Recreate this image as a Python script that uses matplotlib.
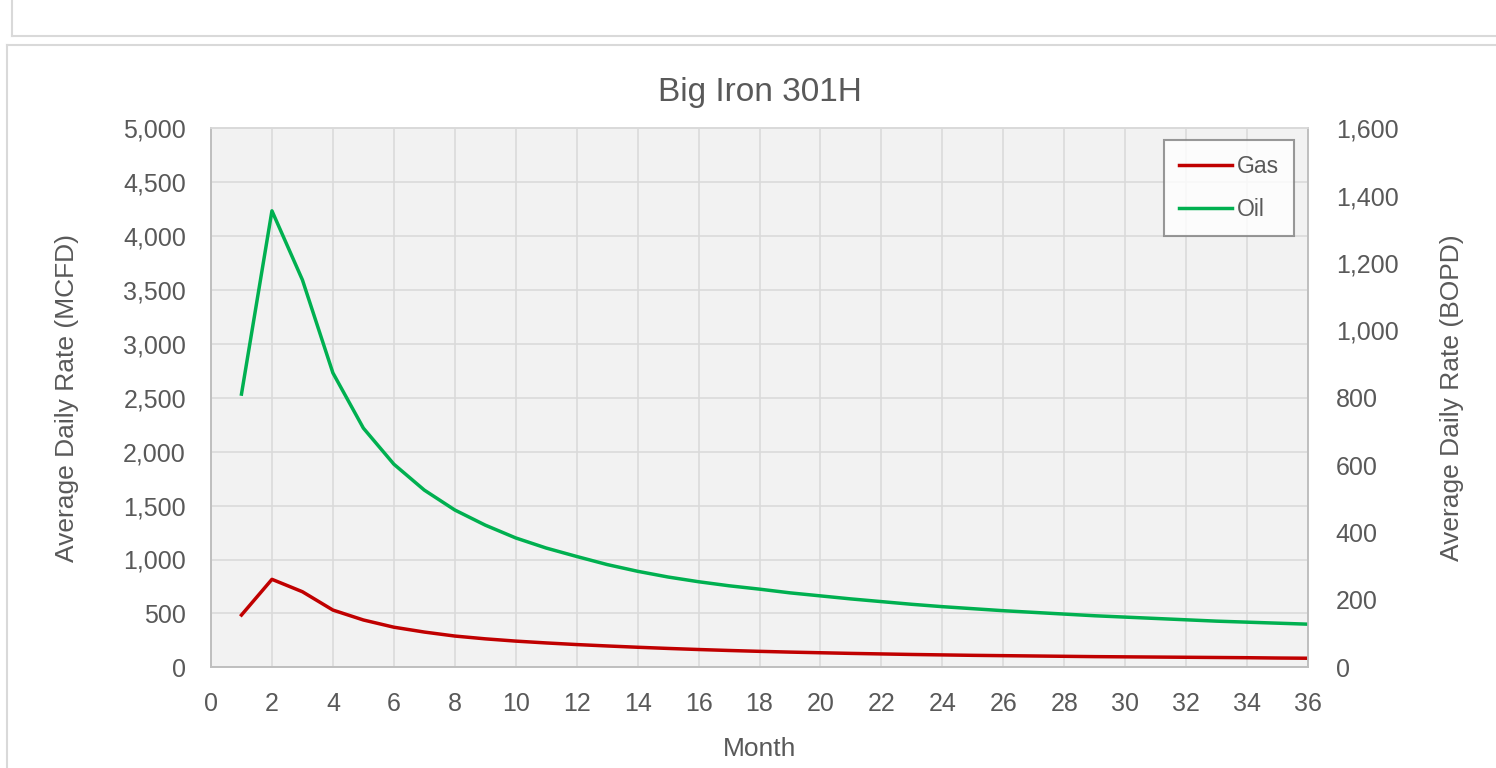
import matplotlib
matplotlib.use("Agg")
import matplotlib.pyplot as plt
from matplotlib.lines import Line2D
from matplotlib.ticker import FuncFormatter, MultipleLocator

plt.rcParams['font.family'] = ['Liberation Sans', 'DejaVu Sans']

# data
months = list(range(1, 37))
gas_mcfd = [485, 816, 701, 531, 439, 372, 327, 290, 264, 243, 226, 211,
            198, 186, 175, 165, 156, 148, 141, 135, 129, 124, 119, 115,
            111, 108, 105, 102, 99, 97, 95, 93, 91, 89, 86, 84]
oil_bopd = [811, 1355, 1150, 874, 710, 603, 526, 467, 422, 384, 354, 329,
            305, 285, 268, 254, 242, 232, 221, 212, 203, 195, 187, 180,
            174, 168, 163, 158, 153, 149, 145, 141, 137, 134, 131, 128]

txt = '#595959'
W, H = 1496, 768

fig = plt.figure(figsize=(W / 100, H / 100), dpi=100)

# chart frame lines (this chart and the bottom of the one above)
def px_line(x0, y0, x1, y1):
    fig.add_artist(Line2D([x0 / W, x1 / W], [1 - y0 / H, 1 - y1 / H],
                          transform=fig.transFigure, color='#d9d9d9', lw=1.5))

px_line(12, 0, 12, 36)
px_line(12, 36, W, 36)
px_line(7, 45, W, 45)
px_line(7, 45, 7, H)

ax = fig.add_axes([211 / W, 1 - 667.3 / H, (1308 - 211) / W, (667.3 - 128.3) / H])
ax2 = ax.twinx()

ax.set_facecolor('#f2f2f2')
ax.set_xlim(0, 36)
ax.set_ylim(0, 5000)
ax2.set_ylim(0, 1600)
ax.xaxis.set_major_locator(MultipleLocator(2))
ax.yaxis.set_major_locator(MultipleLocator(500))
ax2.yaxis.set_major_locator(MultipleLocator(200))
fmt = FuncFormatter(lambda v, p: f'{int(v):,}')
ax.yaxis.set_major_formatter(fmt)
ax2.yaxis.set_major_formatter(fmt)

ax.grid(True, color='#d9d9d9', lw=1.1)
ax.set_axisbelow(True)

for a in (ax, ax2):
    for s in a.spines.values():
        s.set_color('#bfbfbf')
        s.set_linewidth(1.2)
    a.spines['top'].set_color('#d9d9d9')
ax.tick_params(axis='both', length=0, labelsize=18, labelcolor=txt)
ax.tick_params(axis='y', pad=18)
ax.tick_params(axis='x', pad=18)
ax2.tick_params(axis='y', length=0, labelsize=18, labelcolor=txt, pad=20)

l1, = ax.plot(months, gas_mcfd, color='#c00000', lw=2.5, label='Gas')
l2, = ax2.plot(months, oil_bopd, color='#00b050', lw=2.5, label='Oil')

ax.set_title('Big Iron 301H', fontsize=24, color=txt, pad=20)
ax.set_xlabel('Month', fontsize=19, color=txt, labelpad=15)
ax.set_ylabel('Average Daily Rate (MCFD)', fontsize=19, color=txt, labelpad=32)
ax2.set_ylabel('Average Daily Rate (BOPD)', fontsize=19, color=txt, labelpad=30)

leg = ax2.legend(handles=[l1, l2], loc='upper right',
                 bbox_to_anchor=(1294 / W, 1 - 140 / H), bbox_transform=fig.transFigure,
                 fontsize=16.5, frameon=True, fancybox=False, borderaxespad=0,
                 borderpad=0.65, handlelength=2.35, handletextpad=0.2,
                 labelspacing=0.88)
leg.get_frame().set_edgecolor('#7f7f7f')
leg.get_frame().set_linewidth(1.5)
for t in leg.get_texts():
    t.set_color(txt)

fig.savefig('out.png', dpi=100)
